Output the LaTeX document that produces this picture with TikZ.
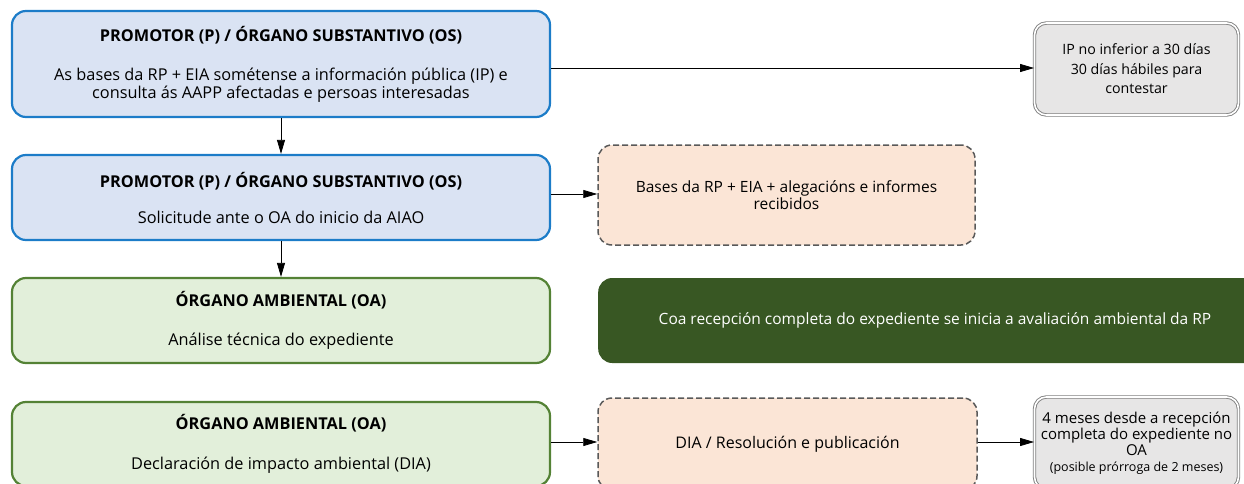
\documentclass[tikz,border=0pt]{standalone}
\usepackage{fontspec}
\setmainfont{Open Sans}
\usetikzlibrary{arrows.meta}
\definecolor{bluefill}{HTML}{DAE3F3}
\definecolor{blueline}{HTML}{1C7CC8}
\definecolor{greenfill}{HTML}{E2EFDA}
\definecolor{greenline}{HTML}{548235}
\definecolor{darkgreen}{HTML}{385723}
\definecolor{peach}{HTML}{FBE5D6}
\definecolor{dashline}{HTML}{595959}
\definecolor{grayfill}{HTML}{E7E6E6}
\definecolor{grayline}{HTML}{7F7F7F}
\tikzset{
  x=1pt, y=1pt,
  mainbox/.style={rectangle, rounded corners=14pt, line width=2.2pt, minimum width=538pt, align=center, font=\fontsize{16.3}{18}\selectfont, inner sep=0pt},
  bluebox/.style={mainbox, draw=blueline, fill=bluefill},
  greenbox/.style={mainbox, draw=greenline, fill=greenfill},
  notebox/.style={rectangle, rounded corners=14pt, line width=1.5pt, dash pattern=on 6pt off 3pt, draw=dashline, fill=peach, align=center, font=\fontsize{15.5}{17}\selectfont, inner sep=0pt},
  timebox/.style={rectangle, rounded corners=12pt, draw=grayline, double=white, double distance=1.6pt, line width=0.9pt, fill=grayfill, align=center, inner sep=0pt, minimum width=204pt},
  darkbox/.style={rectangle, rounded corners=14pt, fill=darkgreen, inner sep=0pt},
  conn/.style={-{Triangle[length=14pt,width=8pt]}, line width=0.8pt, black},
}
\begin{document}
\begin{tikzpicture}
\useasboundingbox (0,0) rectangle (1244,-484);
\begin{scope}
\clip (0,0) rectangle (1244,-484);
% left column
\node[bluebox, minimum height=106pt] (b1) at (281,-64) {\textbf{PROMOTOR (P) / ÓRGANO SUBSTANTIVO (OS)}\\[21pt]As bases da RP + EIA sométense a información pública (IP) e\\consulta ás AAPP afectadas e persoas interesadas};
\node[bluebox, minimum height=85pt] (b2) at (281,-197.5) {\textbf{PROMOTOR (P) / ÓRGANO SUBSTANTIVO (OS)}\\[18pt]Solicitude ante o OA do inicio da AIAO};
\node[greenbox, minimum height=85pt] (b3) at (281,-320.5) {\textbf{ÓRGANO AMBIENTAL (OA)}\\[21pt]Análise técnica do expediente};
\node[greenbox, minimum height=84pt] (b4) at (281,-444) {\textbf{ÓRGANO AMBIENTAL (OA)}\\[22pt]Declaración de impacto ambiental (DIA)};
% right column
\node[timebox, minimum height=92pt, font=\fontsize{14.2}{19.5}\selectfont] (ip) at (1136.5,-69) {IP no inferior a 30 días\\30 días hábiles para\\contestar};
\node[notebox, minimum width=377pt, minimum height=100pt] (bases) at (786.5,-195) {Bases da RP + EIA + alegacións e informes\\recibidos};
\node[darkbox, minimum width=680pt, minimum height=85pt, anchor=west] (dark) at (598,-320.5) {};
\node[text=white, font=\fontsize{15.5}{17}\selectfont] (darktext) at (935,-320.5) {Coa recepción completa do expediente se inicia a avaliación ambiental da RP};
\node[notebox, minimum width=379pt, minimum height=92pt, font=\fontsize{16}{17}\selectfont] (dia) at (787.5,-444) {DIA / Resolución e publicación};
\node[timebox, minimum height=92pt, font=\fontsize{15}{16}\selectfont] (meses) at (1136.5,-443) {4 meses desde a recepción\\completa do expediente no\\OA\\{\fontsize{12.5}{15}\selectfont(posible prórroga de 2 meses)}};
% connectors
\draw[conn] (b1.east |- 0,-68) -- (ip.west |- 0,-68);
\draw[conn] (b1.south) -- (b2.north);
\draw[conn] (b2.east |- 0,-194) -- (bases.west |- 0,-194);
\draw[conn] (b2.south) -- (b3.north);
\draw[conn] (b4.east |- 0,-442) -- (dia.west |- 0,-442);
\draw[conn] (dia.east |- 0,-442) -- (meses.west |- 0,-442);
\end{scope}
\end{tikzpicture}
\end{document}
